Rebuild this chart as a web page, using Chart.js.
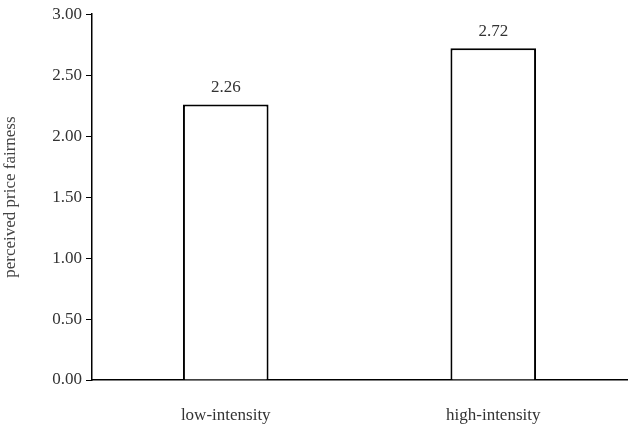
<!DOCTYPE html>
<html>
<head>
<meta charset="utf-8">
<script src="https://cdn.jsdelivr.net/npm/chart.js@4/dist/chart.umd.min.js"></script>
<style>
  html,body{margin:0;padding:0;background:#fff;}
  #wrap{width:633px;height:430px;}
</style>
</head>
<body>
<div id="wrap"><canvas id="c" width="633" height="430"></canvas></div>
<script>
  // data
  const categories = ['low-intensity', 'high-intensity'];
  const values = [2.26, 2.72];
  const yTicks = [0, 0.5, 1, 1.5, 2, 2.5, 3];

  const FONT = '"Liberation Serif", "Times New Roman", serif';

  // value labels above bars
  const valueLabels = {
    id: 'valueLabels',
    afterDatasetsDraw(chart){
      const ctx = chart.ctx;
      const meta = chart.getDatasetMeta(0);
      ctx.save();
      ctx.font = '17px ' + FONT;
      ctx.fillStyle = '#333';
      ctx.textAlign = 'center';
      ctx.textBaseline = 'bottom';
      meta.data.forEach((bar, i) => {
        ctx.fillText(values[i].toFixed(2), bar.x, bar.y - 8);
      });
      ctx.restore();
    }
  };

  new Chart(document.getElementById('c'), {
    type: 'bar',
    data: {
      labels: categories,
      datasets: [{
        data: values,
        backgroundColor: '#fff',
        borderColor: '#000',
        borderWidth: 2,
        borderSkipped: 'bottom',
        categoryPercentage: 1,
        barPercentage: 0.32
      }]
    },
    options: {
      responsive: false,
      animation: false,
      layout: { padding: { top: 6, right: 6, bottom: 0, left: 0 } },
      plugins: { legend: { display: false }, tooltip: { enabled: false } },
      scales: {
        x: {
          afterFit(axis){ axis.height = 50; },
          grid: { display: false, drawTicks: false },
          border: { color: '#000', width: 1.5 },
          ticks: { color: '#333', font: { family: FONT, size: 17 }, padding: 25 }
        },
        y: {
          min: 0, max: 3,
          afterBuildTicks(axis){ axis.ticks = yTicks.map(v => ({ value: v })); },
          afterFit(axis){ axis.width = 92; },
          grid: { display: true, drawOnChartArea: false, drawTicks: true, tickLength: 6, color: '#000' },
          border: { color: '#000', width: 1.5 },
          ticks: { color: '#333', font: { family: FONT, size: 17 }, padding: 4,
                   callback: v => Number(v).toFixed(2) },
          title: { display: true, text: 'perceived price fairness', color: '#444',
                   font: { family: FONT, size: 17 }, padding: 0 }
        }
      }
    },
    plugins: [valueLabels]
  });
</script>
</body>
</html>
